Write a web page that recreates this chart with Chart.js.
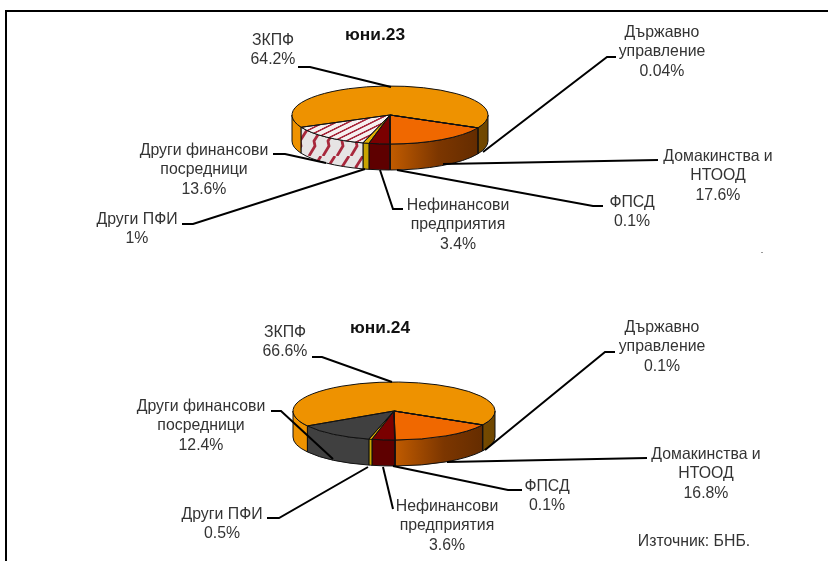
<!DOCTYPE html>
<html><head><meta charset="utf-8">
<script src="https://cdn.jsdelivr.net/npm/chart.js@4/dist/chart.umd.min.js"></script>
<style>
html,body{margin:0;padding:0;background:#fff;overflow:hidden}
body{width:828px;height:561px;position:relative}
canvas{position:absolute;left:0}
#frame{position:absolute;left:5px;top:10px;width:823px;height:551px;border-top:2px solid #000;border-left:2px solid #000;box-sizing:border-box}
#dot{position:absolute;left:761px;top:252px;width:2px;height:1px;background:#999}
</style></head><body>
<div id="frame"></div><div id="dot"></div>
<canvas id="c1"></canvas><canvas id="c2"></canvas>
<script>
const categories=["ЗКПФ","Държавно управление","Домакинства и НТООД","ФПСД","Нефинансови предприятия","Други ПФИ","Други финансови посредници"];
const titles=["юни.23","юни.24"];
const values23=[64.2,0.04,17.6,0.1,3.4,1,13.6];
const values24=[66.6,0.1,16.8,0.1,3.6,0.5,12.4];
const labelLines=[["ЗКПФ"],["Държавно","управление"],["Домакинства и","НТООД"],["ФПСД"],["Нефинансови","предприятия"],["Други ПФИ"],["Други финансови","посредници"]];
const source="Източник: БНБ.";

// layout only (page pixels)
const W=828,FONT='"Liberation Sans", Arial, sans-serif',TEXT='#333',LH=19.8,SQUEEZE=0.96;
const geom=[
 {top:0,h:290,cx:390,cy:115,r:98,ry:29,depth:26,rotation:-115,titleX:375,titleY:35,
  labels:[[273,40],[662,32],[718,156],[632,202],[458,205],[137,219],[204,150]],
  leaders:[[[298,67],[310,67],[391,87]],[[616,57],[607,57],[483,152]],[[658,160],[443,164]],[[603,206],[593,206],[397,170]],[[403,209],[393,209],[380,170]],[[182,224],[193,224],[365,169]],[[273,154],[285,154],[326,163]]]},
 {top:290,h:271,cx:394,cy:411,r:101,ry:29,depth:26,rotation:-121,titleX:380,titleY:328,
  labels:[[285,332],[662,327],[706,454],[547,486],[447,506],[222,514],[201,406]],
  leaders:[[[312,357],[322,357],[392,382]],[[615,352],[605,352],[485,450]],[[647,458],[447,462]],[[522,490],[508,490],[393,466]],[[393,509],[383,467]],[[267,518],[279,518],[368,467]],[[271,411],[281,411],[333,459]]]}
];

function tile(w,h,draw){const c=document.createElement('canvas');c.width=w;c.height=h;draw(c.getContext('2d'));return c;}
const hatchTop=document.createElement('canvas').getContext('2d').createPattern(tile(12,20,g=>{
 g.fillStyle='#f6f0f0';g.fillRect(0,0,12,20);g.strokeStyle='#a8283c';g.lineWidth=3;
 g.beginPath();g.moveTo(-6,10);g.lineTo(6,-10);g.moveTo(0,20);g.lineTo(12,0);g.moveTo(6,30);g.lineTo(18,10);g.stroke();
}),'repeat');
const hatchSide=document.createElement('canvas').getContext('2d').createPattern(tile(14,26,g=>{
 g.fillStyle='#e6e4e4';g.fillRect(0,0,14,26);g.strokeStyle='#a8283c';g.lineWidth=2.8;
 const zig=dx=>{g.moveTo(1+dx,26);g.lineTo(7+dx,16);g.lineTo(6+dx,11);g.lineTo(13+dx,0);};
 g.beginPath();zig(0);zig(-14);zig(14);g.stroke();
}),'repeat');

function palette(i){
 const lastTop=i===0?hatchTop:'#404040';
 return ['#ee9200','#7a4c00','#f06800','#7a0000','#7a0000','#e0b000',lastTop];
}
function sideFill(ctx,g,i,idx){
 const grad=(x0,x1,stops)=>{const l=ctx.createLinearGradient(x0,0,x1,0);stops.forEach(s=>l.addColorStop(s[0],s[1]));return l;};
 switch(idx){
  case 0:return grad(g.cx-g.r,g.cx+g.r,[[0,'#ee9200'],[.2,'#ee9200'],[.85,'#805000'],[1,'#6e4600']]);
  case 1:return '#6e4600';
  case 2:return grad(g.cx,g.cx+g.r*.9,[[0,'#c25c00'],[.55,'#7c3600'],[1,'#642c00']]);
  case 3:case 4:return '#5e0000';
  case 5:return '#c8a400';
  default:return i===0?hatchSide:'#404040';
 }
}
function label(ctx,t,x,y,sx){ctx.save();ctx.translate(x,y);ctx.scale(sx,1);ctx.fillText(t,0,0);ctx.restore();}

const pie3d={id:'pie3d',
 beforeDatasetsDraw(chart,a,o){
  const ctx=chart.ctx,g=geom[o.index];
  chart.getDatasetMeta(0).data.forEach((el,idx)=>{
   const p=el.getProps(['x','y','startAngle','endAngle','outerRadius'],true),rx=p.outerRadius;
   const ry=g.ry,two=Math.PI*2;
   for(let k=-2;k<3;k++){
    const lo=Math.max(p.startAngle,k*two),hi=Math.min(p.endAngle,k*two+Math.PI);
    if(lo>=hi)continue;
    ctx.beginPath();ctx.ellipse(p.x,p.y,rx,ry,0,lo,hi);
    ctx.ellipse(p.x,p.y+g.depth,rx,ry,0,hi,lo,true);ctx.closePath();
    ctx.fillStyle=sideFill(ctx,g,o.index,idx);ctx.fill();
    ctx.strokeStyle='#111';ctx.lineWidth=1;ctx.stroke();
   }
  });
  ctx.save();
  const c=chart.getDatasetMeta(0).data[0];
  ctx.translate(c.x,c.y);ctx.scale(1,g.ry/c.outerRadius);ctx.translate(-c.x,-c.y);
 },
 afterDatasetsDraw(chart,a,o){
  const ctx=chart.ctx,g=geom[o.index],vals=chart.data.datasets[0].data;
  ctx.restore();
  chart.getDatasetMeta(0).data.forEach(el=>{
   const p=el.getProps(['x','y','startAngle','endAngle','outerRadius'],true);
   ctx.beginPath();ctx.moveTo(p.x,p.y);
   ctx.ellipse(p.x,p.y,p.outerRadius,g.ry,0,p.startAngle,p.endAngle);ctx.closePath();
   ctx.strokeStyle='#111';ctx.lineWidth=1;ctx.stroke();
  });
  const off=g.top;
  ctx.strokeStyle='#000';ctx.lineWidth=2;ctx.lineJoin='miter';
  g.leaders.forEach(l=>{ctx.beginPath();l.forEach((q,i)=>i?ctx.lineTo(q[0],q[1]-off):ctx.moveTo(q[0],q[1]-off));ctx.stroke();});
  ctx.textAlign='center';ctx.textBaseline='middle';
  ctx.fillStyle=TEXT;ctx.font='16.5px '+FONT;
  g.labels.forEach((pos,i)=>{
   const lines=labelLines[i].concat(vals[i]+'%');
   lines.forEach((t,j)=>label(ctx,t,pos[0],pos[1]-off+j*LH,SQUEEZE));
  });
  if(o.index===1)label(ctx,source,694,541-off,SQUEEZE);
  ctx.fillStyle='#111';ctx.font='bold 17px '+FONT;
  label(ctx,titles[o.index],g.titleX,g.titleY-off,1.02);
 }
};

[values23,values24].forEach((vals,i)=>{
 const g=geom[i],cv=document.getElementById(i?'c2':'c1');
 cv.style.top=g.top+'px';
 cv.style.width=W+'px';cv.style.height=g.h+'px';cv.width=W;cv.height=g.h;
 const cy=g.cy-g.top;
 new Chart(cv,{type:'pie',plugins:[pie3d],
  data:{labels:categories,datasets:[{data:vals,backgroundColor:palette(i),borderWidth:0,clip:false}]},
  options:{responsive:false,animation:false,rotation:g.rotation,
   layout:{padding:{left:g.cx-g.r,right:W-g.cx-g.r,top:cy-g.r,bottom:g.h-cy-g.r}},
   plugins:{legend:{display:false},tooltip:{enabled:false},title:{display:false},pie3d:{index:i}}}
 });
});
</script></body></html>
